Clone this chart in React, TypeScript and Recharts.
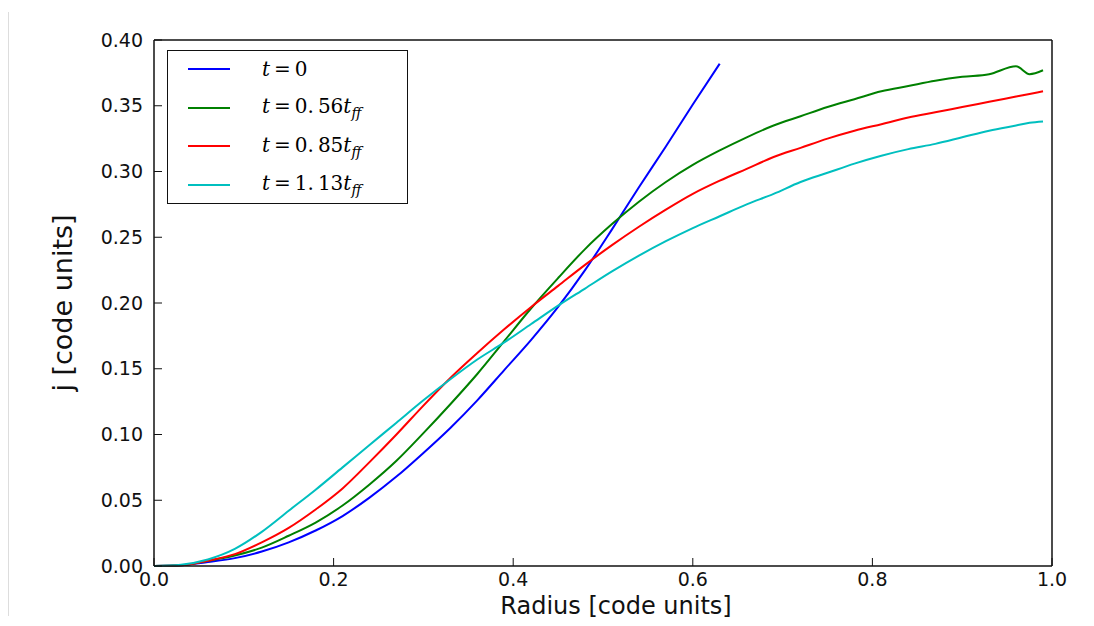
import { Legend, Line, LineChart, XAxis, YAxis } from "recharts";

// radius in code units (last few points are denser around the green wiggle)
const radius = [
  0, 0.03, 0.06, 0.09, 0.12, 0.15, 0.18, 0.21, 0.24, 0.27, 0.3, 0.33, 0.36,
  0.39, 0.42, 0.45, 0.48, 0.51, 0.54, 0.57, 0.6, 0.63, 0.66, 0.69, 0.72, 0.75,
  0.78, 0.81, 0.84, 0.87, 0.9, 0.93, 0.96, 0.975, 0.99,
];

// t = 0 only reaches r = 0.63
const jT0 = [
  0, 0.0005, 0.003, 0.006, 0.011, 0.018, 0.027, 0.038, 0.052, 0.068, 0.086,
  0.105, 0.126, 0.149, 0.172, 0.197, 0.225, 0.256, 0.288, 0.319, 0.351, 0.382,
];

const jT056 = [
  0, 0.0005, 0.004, 0.008, 0.014, 0.023, 0.033, 0.046, 0.062, 0.08, 0.101,
  0.123, 0.146, 0.171, 0.196, 0.219, 0.241, 0.26, 0.277, 0.292, 0.305, 0.316,
  0.326, 0.335, 0.342, 0.349, 0.355, 0.361, 0.365, 0.369, 0.372, 0.374, 0.38,
  0.374, 0.377,
];

const jT085 = [
  0, 0.0005, 0.004, 0.009, 0.018, 0.029, 0.043, 0.059, 0.079, 0.1, 0.122,
  0.143, 0.162, 0.18, 0.197, 0.213, 0.229, 0.244, 0.258, 0.271, 0.283, 0.293,
  0.302, 0.311, 0.318, 0.325, 0.331, 0.336, 0.341, 0.345, 0.349, 0.353, 0.357,
  0.359, 0.361,
];

const jT113 = [
  0, 0.001, 0.005, 0.013, 0.026, 0.042, 0.058, 0.075, 0.092, 0.109, 0.126,
  0.142, 0.157, 0.17, 0.184, 0.198, 0.211, 0.224, 0.236, 0.247, 0.257, 0.266,
  0.275, 0.283, 0.292, 0.299, 0.306, 0.312, 0.317, 0.321, 0.326, 0.331, 0.335,
  0.337, 0.338,
];

const xTicks = [0, 0.2, 0.4, 0.6, 0.8, 1.0];
const yTicks = [0, 0.05, 0.1, 0.15, 0.2, 0.25, 0.3, 0.35, 0.4];

const series = [
  { key: "t0", label: "0", sub: "", color: "#0000ff" },
  { key: "t056", label: "0.\u200956", sub: "ff", color: "#008000" },
  { key: "t085", label: "0.\u200985", sub: "ff", color: "#ff0000" },
  { key: "t113", label: "1.\u200913", sub: "ff", color: "#00bfbf" },
];

const data = radius.map((r, i) => ({
  r,
  t0: jT0[i],
  t056: jT056[i],
  t085: jT085[i],
  t113: jT113[i],
}));

const mathFont = "'DejaVu Serif', serif";

const renderLegend = () => (
  <div
    style={{
      width: 239,
      height: 152,
      border: "1.5px solid #111",
      background: "#fff",
      boxSizing: "content-box",
      position: "relative",
    }}
  >
    {series.map((s, i) => (
      <div
        key={s.key}
        style={{
          position: "absolute",
          left: 0,
          top: 18 + i * 38.5 - 14,
          height: 28,
          display: "flex",
          alignItems: "center",
        }}
      >
        <div
          style={{
            marginLeft: 20,
            width: 42,
            height: 2,
            background: s.color,
          }}
        />
        <span
          style={{
            marginLeft: 32,
            fontFamily: mathFont,
            fontSize: 20,
            color: "#000",
            whiteSpace: "nowrap",
          }}
        >
          <i>t</i>
          <span style={{ margin: "0 4px" }}>=</span>
          {s.label}
          {s.sub && (
            <>
              <i>t</i>
              <sub style={{ fontSize: 14, fontStyle: "italic" }}>{s.sub}</sub>
            </>
          )}
        </span>
      </div>
    ))}
  </div>
);

const frame = { stroke: "#111", strokeWidth: 1.5 };

export default function App() {
  return (
    <div style={{ position: "relative", width: 1078, height: 618 }}>
      <div
        style={{
          position: "absolute",
          left: 0,
          top: 4,
          width: 1,
          height: 604,
          background: "#dddddd",
        }}
      />
      <LineChart
        width={1078}
        height={618}
        data={data}
        margin={{ top: 31, right: 33, left: 0, bottom: 8 }}
      >
        <XAxis
          dataKey="r"
          type="number"
          domain={[0, 1]}
          ticks={xTicks}
          tickFormatter={(v: number) => v.toFixed(1)}
          height={52}
          axisLine={frame}
          tickLine={{ stroke: "#111" }}
          tickSize={-8}
          tickMargin={15}
          tick={{ fill: "#111", fontSize: 19, fontFamily: "'DejaVu Sans'" }}
          label={{
            content: ({ viewBox }: any) => (
              <text
                x={viewBox.x + viewBox.width / 2 + 13}
                y={viewBox.y + 40}
                textAnchor="middle"
                dominantBaseline="central"
                fontSize={24}
                fontFamily="'DejaVu Sans'"
                fill="#111"
              >
                Radius [code units]
              </text>
            ),
          }}
        />
        <XAxis
          xAxisId="top"
          orientation="top"
          dataKey="r"
          type="number"
          domain={[0, 1]}
          ticks={xTicks}
          height={1}
          axisLine={frame}
          tickLine={{ stroke: "#111" }}
          tickSize={-8}
          tick={false}
        />
        <YAxis
          type="number"
          domain={[0, 0.4]}
          ticks={yTicks}
          tickFormatter={(v: number) => v.toFixed(2)}
          width={146}
          axisLine={frame}
          tickLine={{ stroke: "#111" }}
          tickSize={-8}
          tickMargin={19}
          tick={{ fill: "#111", fontSize: 19, fontFamily: "'DejaVu Sans'" }}
          label={{
            content: ({ viewBox }: any) => {
              const cx = 54;
              const cy = viewBox.y + viewBox.height / 2;
              return (
                <text
                  x={cx}
                  y={cy}
                  transform={`rotate(-90 ${cx} ${cy})`}
                  textAnchor="middle"
                  dominantBaseline="central"
                  fontSize={27}
                  fontFamily="'DejaVu Sans'"
                  fill="#111"
                >
                  j [code units]
                </text>
              );
            },
          }}
        />
        <YAxis
          yAxisId="right"
          orientation="right"
          type="number"
          domain={[0, 0.4]}
          ticks={yTicks}
          width={1}
          axisLine={frame}
          tickLine={{ stroke: "#111" }}
          tickSize={-8}
          tick={false}
        />
        <Legend
          layout="vertical"
          align="center"
          verticalAlign="middle"
          content={renderLegend}
          wrapperStyle={{ position: "absolute", left: 159, top: 42, width: "auto", height: "auto" }}
        />
        {series.map((s) => (
          <Line
            key={s.key}
            type="monotone"
            dataKey={s.key}
            stroke={s.color}
            strokeWidth={2}
            dot={false}
            activeDot={false}
            isAnimationActive={false}
          />
        ))}
      </LineChart>
    </div>
  );
}
